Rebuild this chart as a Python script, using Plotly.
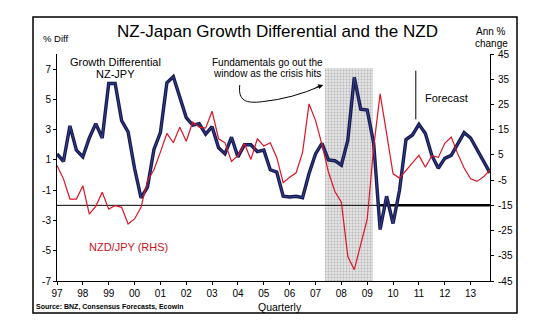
import plotly.graph_objects as go

# ---------------- data ----------------
start_year = 1997
n_quarters = 68  # 1997Q1 .. 2013Q4
quarters = [start_year + i * 0.25 for i in range(n_quarters)]

growth_diff = [
    1.4, 0.9, 3.25, 1.65, 1.2, 2.45, 3.4, 2.45, 6.05, 6.05,
    3.6, 2.85, 0.45, -1.5, -0.8, 1.7, 2.8, 6.1, 6.5, 5.1,
    3.8, 3.3, 3.4, 2.7, 3.2, 1.8, 1.4, 2.5, 1.2, 2.0,
    2.0, 1.55, 1.65, 0.35, 0.2, -1.4, -1.45, -1.4, -1.5, 0.1,
    1.4, 2.1, 1.0, 0.95, 0.65, 2.3, 6.45, 4.35, 4.3, 2.1,
    -3.6, -1.4, -3.2, -1.0, 2.35, 2.65, 3.35, 2.75, 1.3, 0.45,
    1.1, 1.3, 2.1, 2.8, 2.45, 1.7, 0.9, 0.15,
]

nzdjpy = [
    0.8, -4.5, -12.5, -12.5, -7.2, -18.5, -15.4, -9.8, -16.5, -15.1,
    -15.8, -22.4, -20.4, -15.8, -5.2, -0.9, 6.1, 13.5, 9.8, 16.0,
    10.4, 18.0, 16.0, 15.6, 22.3, 11.4, 9.8, 2.4, 4.8, 9.4,
    3.2, 11.4, 8.5, 9.8, 4.0, -6.0, -3.9, -2.1, 6.0, 25.2,
    18.7, 9.1, -1.8, -9.5, -13.8, -35.3, -40.5, -30.5, -20.5, 8.0,
    29.2, 13.5, -2.5, -4.2, -1.0, 1.8, 4.8, 0.1, 4.7, 4.0,
    9.6, 12.1, 5.5, -0.2, -4.5, -5.5, -3.7, -1.0,
]

year_ticks = list(range(1997, 2014))
year_labels = [f"{y % 100:02d}" for y in year_ticks]
left_ticks = [-7, -5, -3, -1, 1, 3, 5, 7]
left_labels = [str(v) for v in left_ticks]
right_ticks = [-45, -35, -25, -15, -5, 5, 15, 25, 35, 45]
right_labels = [str(v) for v in right_ticks]

crisis_start, crisis_end = 2007.35, 2009.21
crisis_low, crisis_high = -7.0, 7.07
reference_level = -2          # left-axis level of the horizontal line (= -15 on right)
thick_from = 2009.5
forecast_year = 2010.88

# ---------------- figure ----------------
FONT = "Liberation Sans, Arial, sans-serif"
x_end = quarters[-1]

fig = go.Figure()

# crisis shading (stippled)
fig.add_trace(go.Bar(
    x=[(crisis_start + crisis_end) / 2], y=[crisis_high - crisis_low], base=[crisis_low],
    width=[crisis_end - crisis_start],
    marker=dict(color="#e4e4e4", line=dict(width=0),
                pattern=dict(shape=".", fgcolor="#8a8a8a", bgcolor="#e4e4e4", size=3, solidity=0.35)),
    showlegend=False, hoverinfo="skip", yaxis="y",
))

# reference level line: thin then thick
fig.add_trace(go.Scatter(x=[start_year, x_end], y=[reference_level, reference_level], mode="lines",
                         line=dict(color="black", width=1), showlegend=False, hoverinfo="skip"))
fig.add_trace(go.Scatter(x=[thick_from, x_end], y=[reference_level, reference_level], mode="lines",
                         line=dict(color="black", width=2.5), showlegend=False, hoverinfo="skip"))

# NZD/JPY (right axis)
fig.add_trace(go.Scatter(x=quarters, y=nzdjpy, mode="lines", yaxis="y2",
                         line=dict(color="#dc1428", width=1.2), showlegend=False))

# Growth differential (left axis)
fig.add_trace(go.Scatter(x=quarters, y=growth_diff, mode="lines",
                         line=dict(color="#17184f", width=3.4), showlegend=False))
fig.add_trace(go.Scatter(x=quarters, y=growth_diff, mode="lines",
                         line=dict(color="#3a4a9a", width=0.8), showlegend=False))

L, R, T, B = 57, 60, 54, 49
W, H = 550, 330
PW, PH = W - L - R, H - T - B


def px(x):
    return (x - L) / PW


def py(y):
    return (H - B - y) / PH


def txt(s, x, y, size=10, xanchor="center", color="black", bold=False):
    if bold:
        s = f"<b>{s}</b>"
    fig.add_annotation(text=s, x=px(x), y=py(y), xref="paper", yref="paper",
                       xanchor=xanchor, yanchor="middle", showarrow=False,
                       font=dict(family=FONT, size=size, color=color))


txt("NZ-Japan Growth Differential and the NZD", 277, 31, size=17)
txt("% Diff", 41, 39, size=9.5, xanchor="left")
txt("Ann %", 491, 32, size=10)
txt("change", 491, 43, size=10)
txt("Growth Differential", 115, 62, size=11)
txt("NZ-JPY", 115, 74, size=11)
txt("Fundamentals go out the", 267, 62, size=10)
txt("window as the crisis hits", 267, 73, size=10)
txt("NZD/JPY (RHS)", 128, 247, size=11, color="#d01020")
txt("Forecast", 423, 98, size=11, xanchor="left")
txt("Quarterly", 280, 306.5, size=10.5)
txt("Source: BNZ, Consensus Forecasts, Ecowin", 34, 307, size=7, xanchor="left", bold=True)

# curved arrow
fig.add_shape(type="path", xref="x", yref="y",
              path="M 2004.07 5.95 C 2004.0 4.9, 2004.3 4.72, 2004.95 4.85 Q 2006.1 5.05 2007.22 5.9",
              line=dict(color="black", width=1))
fig.add_annotation(x=2007.3, y=5.95, xref="x", yref="y", text="", showarrow=True,
                   ax=-9, ay=3, arrowhead=2, arrowsize=1, arrowwidth=1, arrowcolor="black")

# forecast marker line
fig.add_shape(type="line", xref="x", yref="y", x0=forecast_year, x1=forecast_year, y0=3.68, y1=6.9,
              line=dict(color="black", width=1))

# outer frame
fig.add_shape(type="rect", xref="paper", yref="paper",
              x0=px(33), x1=px(517), y0=py(313), y1=py(17),
              line=dict(color="black", width=1.5), fillcolor="rgba(0,0,0,0)")

axis_font = dict(family=FONT, size=10, color="black")
fig.update_layout(
    width=W, height=H,
    margin=dict(l=L, r=R, t=T, b=B, pad=0),
    paper_bgcolor="white", plot_bgcolor="white",
    font=dict(family=FONT, color="black"),
    showlegend=False,
    xaxis=dict(range=[start_year, x_end], tickmode="array", tickvals=year_ticks, ticktext=year_labels,
               showgrid=False, zeroline=False, showline=True, linecolor="black", linewidth=1,
               ticks="outside", ticklen=3, tickcolor="black", tickfont=axis_font),
    yaxis=dict(range=[-7, 8.0], tickmode="array", tickvals=left_ticks, ticktext=left_labels,
               showgrid=False, zeroline=False, showline=True, linecolor="black", linewidth=1,
               ticks="outside", ticklen=3, tickcolor="black", tickfont=axis_font),
    yaxis2=dict(range=[-45, 45], tickmode="array", tickvals=right_ticks, ticktext=right_labels,
                overlaying="y", side="right",
                showgrid=False, zeroline=False, showline=True, linecolor="black", linewidth=1,
                ticks="outside", ticklen=3, tickcolor="black", tickfont=axis_font,
                ticklabelstandoff=2),
    bargap=0,
)

fig.write_html("out.html")
